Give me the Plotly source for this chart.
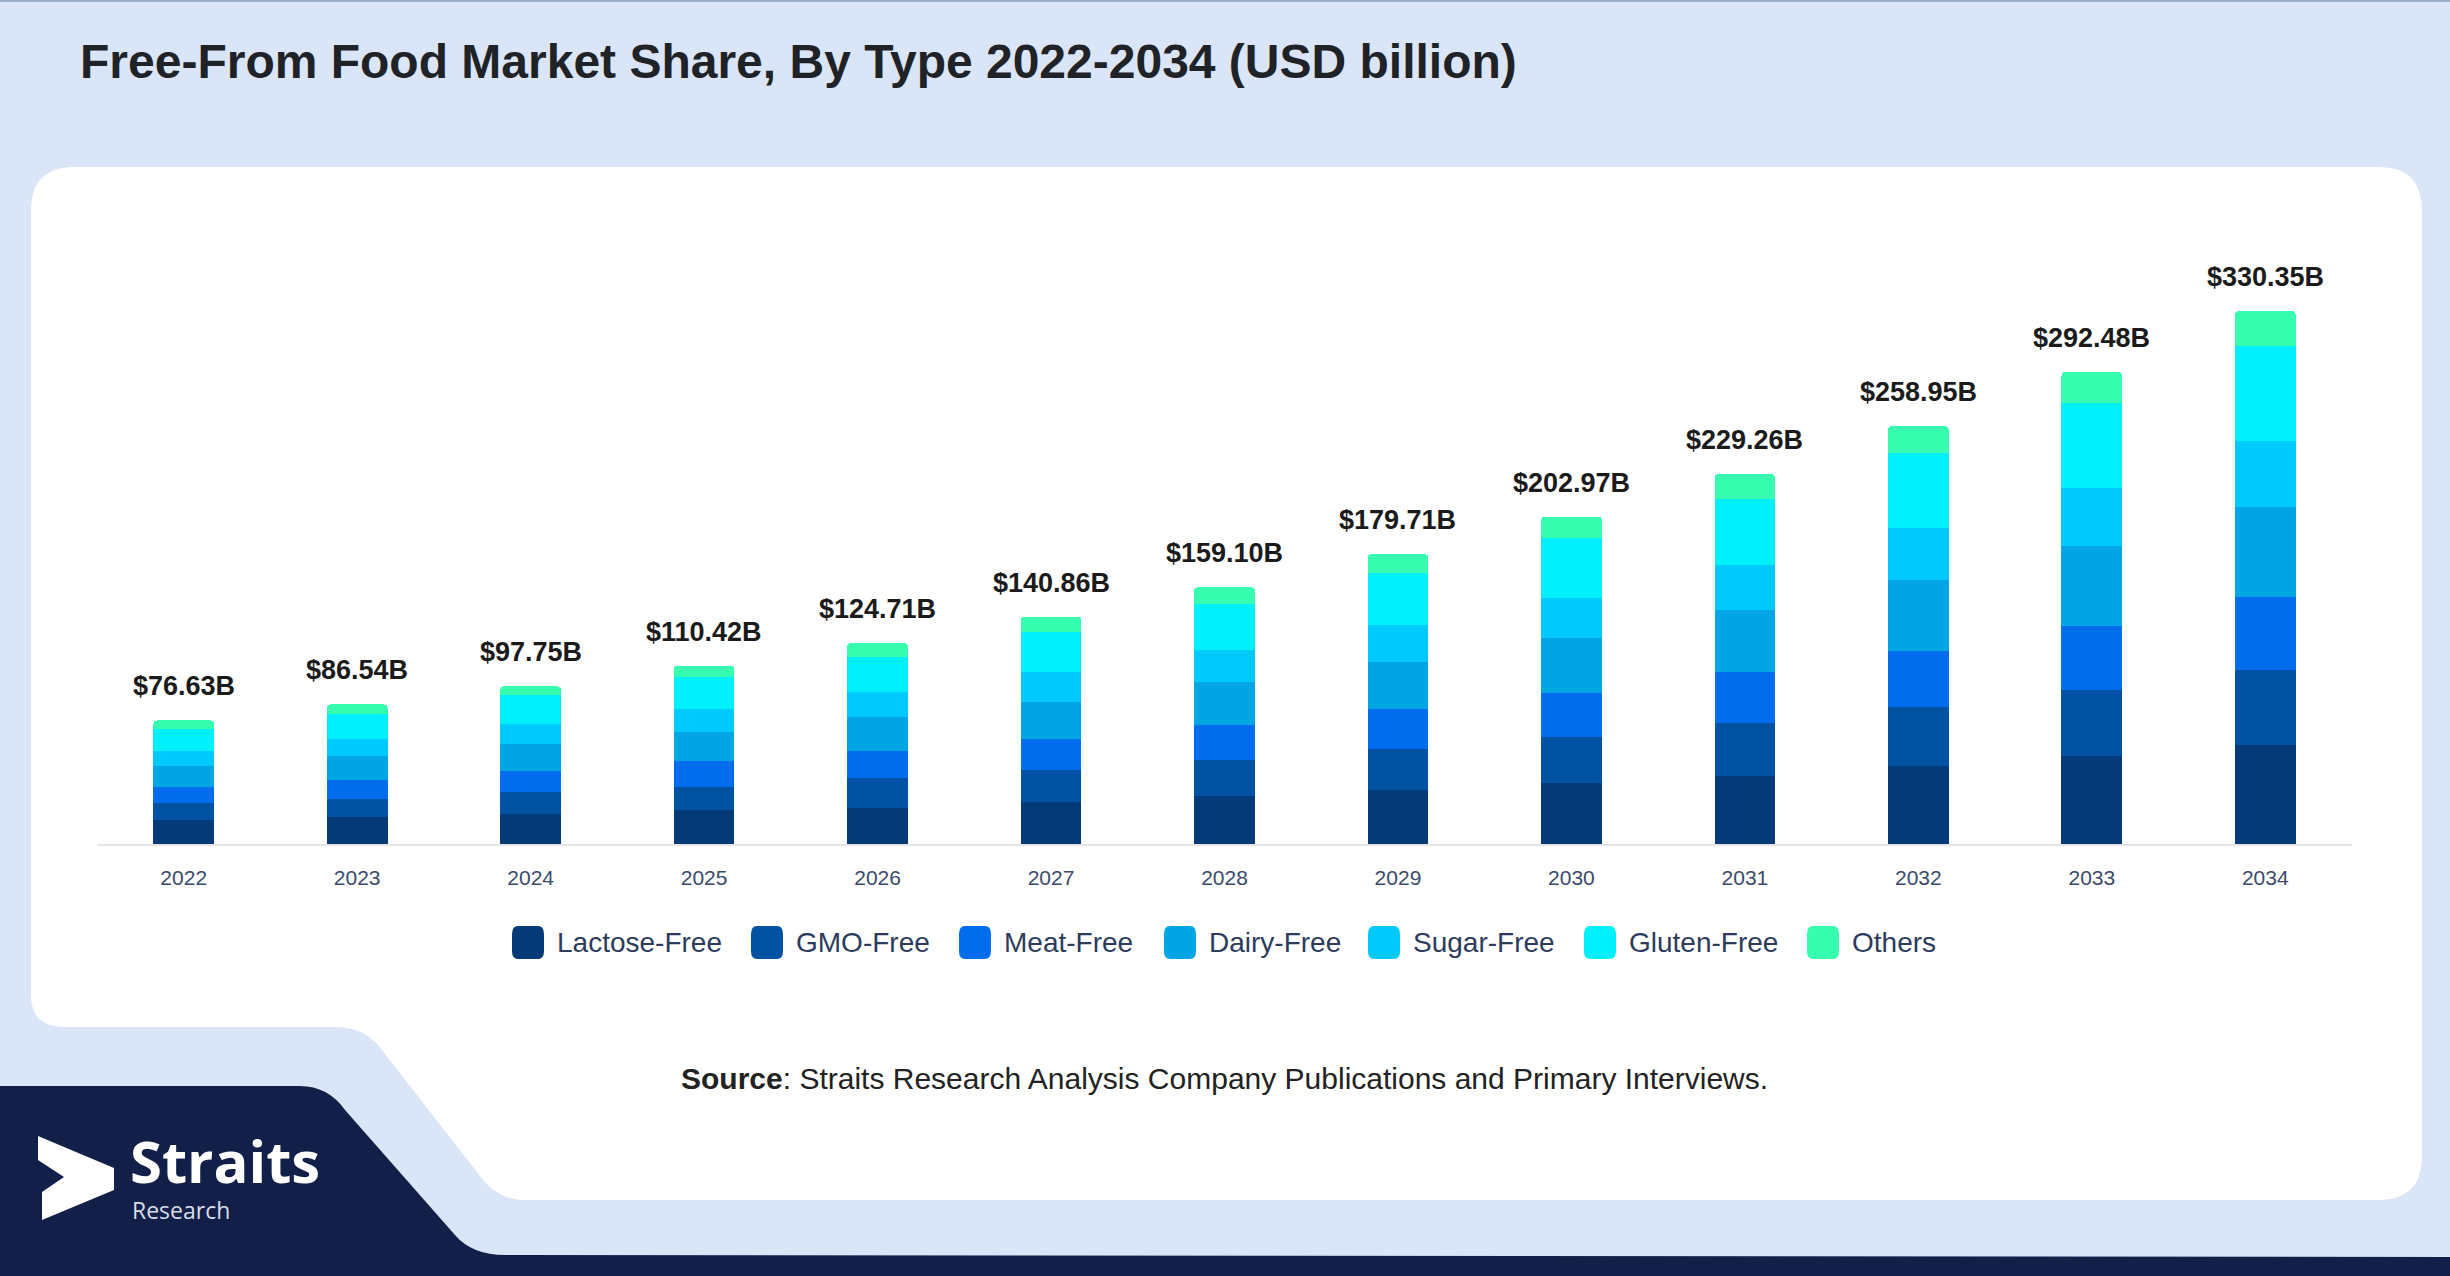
import plotly.graph_objects as go

W, H = 2450, 1276

years = ["2022", "2023", "2024", "2025", "2026", "2027", "2028",
         "2029", "2030", "2031", "2032", "2033", "2034"]
totals = [76.63, 86.54, 97.75, 110.42, 124.71, 140.86, 159.10,
          179.71, 202.97, 229.26, 258.95, 292.48, 330.35]

lactose_free = [14.9, 16.5, 18.6, 21.1, 22.3, 26.2, 29.6, 33.5, 37.7, 42.4, 48.6, 54.4, 61.4]
gmo_free = [10.6, 11.7, 13.5, 14.5, 18.6, 19.8, 22.5, 25.4, 28.6, 32.7, 36.2, 41.0, 46.4]
meat_free = [10.1, 11.7, 13.4, 16.1, 16.9, 19.0, 21.9, 24.8, 27.4, 31.4, 35.1, 39.8, 45.3]
dairy_free = [13.0, 14.6, 16.6, 17.6, 21.1, 23.3, 26.2, 29.3, 34.0, 38.3, 43.8, 49.2, 55.6]
sugar_free = [9.3, 10.7, 12.4, 14.5, 15.1, 18.0, 20.2, 22.7, 24.7, 28.3, 32.0, 36.4, 41.3]
gluten_free = [13.5, 15.1, 17.6, 19.6, 22.1, 25.4, 28.3, 32.0, 37.1, 41.0, 46.5, 52.4, 58.7]
others = [5.2, 6.2, 5.6, 7.0, 8.6, 9.1, 10.4, 12.0, 13.4, 15.1, 16.7, 19.3, 21.6]

segments = ["Lactose-Free", "GMO-Free", "Meat-Free", "Dairy-Free",
            "Sugar-Free", "Gluten-Free", "Others"]
series = [lactose_free, gmo_free, meat_free, dairy_free, sugar_free, gluten_free, others]
colors = ["#033a77", "#0252a3", "#006ded", "#00a5e3", "#00c9fd", "#00f0fd", "#37fdae"]


def px(x):
    return x / W


def py(y):
    return 1 - y / H


def path(points):
    # points are pixel tuples; ("Q", cx, cy, x, y) for curves
    out = []
    for i, p in enumerate(points):
        if p[0] == "Q":
            out.append(f"Q{px(p[1]):.5f},{py(p[2]):.5f} {px(p[3]):.5f},{py(p[4]):.5f}")
        else:
            out.append(("M" if i == 0 else "L") + f"{px(p[0]):.5f},{py(p[1]):.5f}")
    return " ".join(out) + " Z"


fig = go.Figure()
for name, vals, col in zip(segments, series, colors):
    fig.add_trace(go.Bar(x=years, y=vals, name=name, marker_color=col,
                         marker_line_width=0, showlegend=False,
                         hovertemplate="%{x}: %{y}B<extra>" + name + "</extra>"))

# totals above bars (category index as x)
for i, t in enumerate(totals):
    fig.add_annotation(x=i, y=t, text=f"${t:.2f}B", showarrow=False,
                       yshift=34, font=dict(family="Liberation Sans", size=27,
                                            color="#1b1b1b", weight="bold"))

shapes = []
# white panel with cut bottom-left
panel = [(75, 167), (2378, 167), ("Q", 2422, 167, 2422, 211), (2422, 1156),
         ("Q", 2422, 1200, 2378, 1200), (525, 1200), ("Q", 497, 1200, 480, 1176),
         (378, 1045), ("Q", 362, 1027, 335, 1027), (65, 1027),
         ("Q", 31, 1027, 31, 995), (31, 211), ("Q", 31, 167, 75, 167)]
shapes.append(dict(type="path", path=path(panel), xref="paper", yref="paper",
                   fillcolor="white", line_width=0, layer="below"))
# dark band bottom-left
navy = [(0, 1086), (300, 1086), ("Q", 328, 1086, 345, 1110), (455, 1235),
        ("Q", 472, 1255, 505, 1255), (2450, 1257), (2450, 1276), (0, 1276)]
shapes.append(dict(type="path", path=path(navy), xref="paper", yref="paper",
                   fillcolor="#121f48", line_width=0, layer="below"))
# logo arrow
arrow = [(38, 1136), (114, 1168), (114, 1190), (42, 1220), (42, 1192), (64, 1177), (38, 1160)]
shapes.append(dict(type="path", path=path(arrow), xref="paper", yref="paper",
                   fillcolor="white", line_width=0))
# top border
shapes.append(dict(type="line", x0=0, x1=1, y0=py(1), y1=py(1), xref="paper", yref="paper",
                   line=dict(color="#9fb0cc", width=2)))

# legend built by hand for larger rounded markers
legend_marker_x = [528, 767, 975, 1180, 1384, 1600, 1823]
for name, col, mx in zip(segments, colors, legend_marker_x):
    box = [(mx - 10, 926), (mx + 10, 926), ("Q", mx + 16, 926, mx + 16, 934),
           (mx + 16, 951), ("Q", mx + 16, 959, mx + 10, 959), (mx - 10, 959),
           ("Q", mx - 16, 959, mx - 16, 951), (mx - 16, 934), ("Q", mx - 16, 926, mx - 10, 926)]
    shapes.append(dict(type="path", path=path(box), xref="paper", yref="paper",
                       fillcolor=col, line_width=0))
    fig.add_annotation(x=px(mx + 27), y=py(942), xref="paper", yref="paper",
                       text=name, showarrow=False, xanchor="left", yanchor="middle",
                       font=dict(family="Liberation Sans", size=28, color="#2d3b5c"))

fig.add_annotation(x=px(78), y=py(62), xref="paper", yref="paper", xanchor="left",
                   yanchor="middle", showarrow=False,
                   text="Free-From Food Market Share, By Type 2022-2034 (USD billion)",
                   font=dict(family="Liberation Sans", size=48, color="#1f2328", weight="bold"))
fig.add_annotation(x=px(1224), y=py(1097), xref="paper", yref="paper", showarrow=False,
                   text="<b>Source</b>: Straits Research Analysis Company Publications and Primary Interviews.",
                   font=dict(family="Liberation Sans", size=30, color="#222222"))
fig.add_annotation(x=px(128), y=py(1160), xref="paper", yref="paper", xanchor="left",
                   yanchor="middle", showarrow=False, text="<b>Straits</b>",
                   font=dict(family="Open Sans", size=58, color="white"))
fig.add_annotation(x=px(130), y=py(1210), xref="paper", yref="paper", xanchor="left",
                   yanchor="middle", showarrow=False, text="Research",
                   font=dict(family="Open Sans", size=23, color="#d9dde8"))

fig.update_layout(
    width=W, height=H,
    margin=dict(l=0, r=0, t=0, b=0, autoexpand=False),
    paper_bgcolor="#dae6f8",
    plot_bgcolor="rgba(0,0,0,0)",
    barmode="stack",
    bargap=0.65,
    barcornerradius=4,
    shapes=shapes,
    showlegend=False,
    xaxis=dict(type="category", range=[-0.5, len(years) - 0.5],
               domain=[px(97), px(2352)], showgrid=False, showline=True,
               linecolor="#e2e4e8", linewidth=2, ticks="", ticklabelstandoff=14,
               tickfont=dict(family="Liberation Sans", size=21, color="#3b4a6b"),
               fixedrange=True),
    yaxis=dict(domain=[py(844), py(247)], range=[0, 370], visible=False,
               fixedrange=True),
)

fig.write_html("out.html", config={"displayModeBar": False},
               post_script="document.body.style.margin='0';")
